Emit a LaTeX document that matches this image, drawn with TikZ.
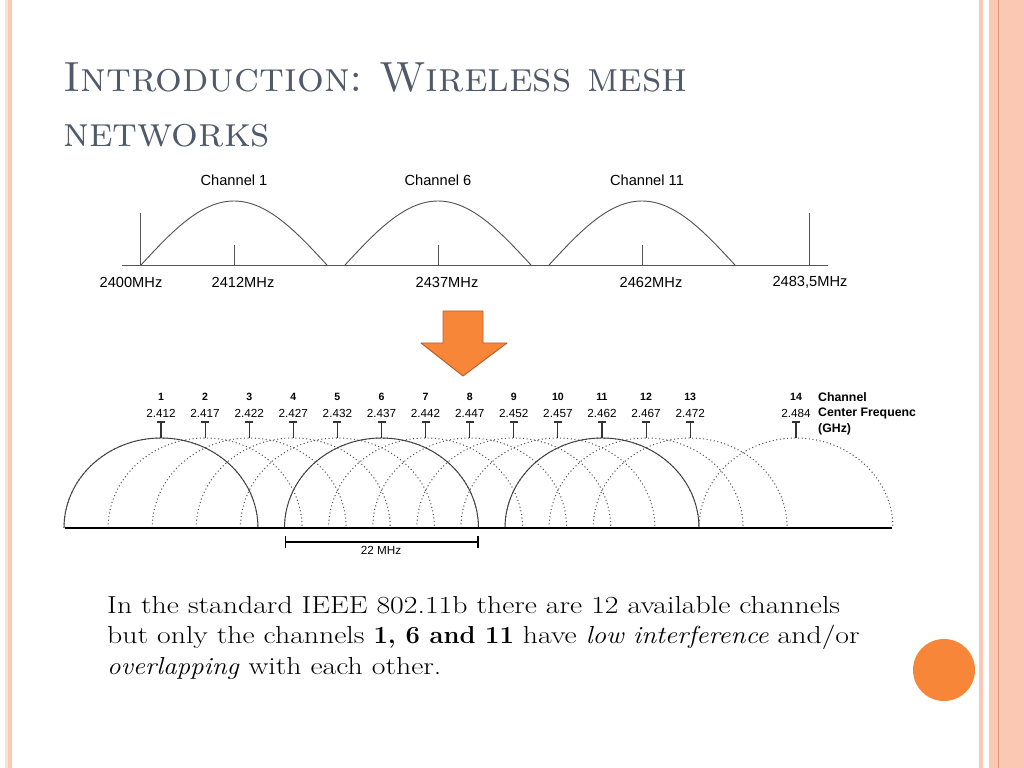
\documentclass[tikz,border=0pt]{standalone}
\usepackage{fontspec}
\newfontfamily\chartfont{Liberation Sans}
\newfontfamily\bodyfont[FakeStretch=1.21, BoldFeatures={FakeStretch=1.04},
    ItalicFeatures={FakeStretch=1.1}]{Latin Modern Roman}
\usetikzlibrary{arrows.meta}
\definecolor{titlegray}{RGB}{80,90,106}
\definecolor{slideorange}{RGB}{247,134,56}
\definecolor{arrowedge}{RGB}{185,95,45}
\definecolor{stripepink}{RGB}{251,200,180}
\definecolor{stripepale}{RGB}{250,226,212}
\definecolor{stripeline}{RGB}{225,150,120}
\definecolor{curvegray}{RGB}{85,85,85}

\begin{document}
\begin{tikzpicture}[x=0.03cm, y=-0.03cm,
    lobe/.style={curvegray, line width=0.8pt},
    solidarc/.style={black!75, line width=0.8pt},
    overlap/.style={black!65, line width=0.9pt, dash pattern=on 0.9pt off 2.2pt},
    toplabel/.style={font=\chartfont\fontsize{12.5}{14}\selectfont, inner sep=0pt},
    chnum/.style={font=\chartfont\bfseries\fontsize{9}{10}\selectfont, inner sep=0pt},
    chfreq/.style={font=\chartfont\fontsize{10}{11}\selectfont, inner sep=0pt},
    legend/.style={font=\chartfont\bfseries\fontsize{10.5}{11}\selectfont, inner sep=0pt, anchor=west}]
    % page and border stripes
    \useasboundingbox (0,0) rectangle (1024,768);
    \fill[white] (0,0) rectangle (1024,768);
    \fill[stripepale] (5,0) rectangle (8,768);
    \fill[stripepink] (8,0) rectangle (12,768);
    \fill[stripepink] (979,0) rectangle (983,768);
    \fill[stripepink] (989,0) rectangle (1024,768);
    \draw[stripeline, line width=0.7pt] (998,0) -- (998,768);
    \fill[slideorange] (944,670) circle[radius=31];

    % title (base = last line)
    \node[anchor=base west, inner sep=0pt, align=left, text=titlegray,
          font=\fontsize{36}{47}\selectfont\scshape\frenchspacing] (title) at (63,147)
          {Introduction: Wireless mesh\\networks};

    % spectrum with three channels
    \draw[lobe] (122,265) -- (828,265);
    \draw[lobe] (140,213) -- (140,265);
    \draw[lobe] (809,213) -- (809,265);
    \foreach \xc in {234,438,642} {
        \draw[lobe] (\xc,245) -- (\xc,265);
        \draw[lobe] (\xc-93,265) sin (\xc,201) cos (\xc+93,265);
    }
    \node[toplabel] (lbl1) at (234,180) {Channel 1};
    \node[toplabel] (lbl6) at (438,180) {Channel 6};
    \node[toplabel] (lbl11) at (647,180) {Channel 11};
    \node[toplabel] (f2400) at (131,282) {2400MHz};
    \node[toplabel] (f2412) at (243,282) {2412MHz};
    \node[toplabel] (f2437) at (447,282) {2437MHz};
    \node[toplabel] (f2462) at (651,282) {2462MHz};
    \node[toplabel] (f2483) at (810,282) {2483,5MHz};

    % arrow down
    \draw[fill=slideorange, draw=arrowedge, line width=0.8pt, line join=round]
        (443,311) -- (483,311) -- (483,343) -- (507,343) -- (463,376) -- (421,343) -- (443,343) -- cycle;

    % all 14 channels
    \foreach \n/\f/\xc in {1/2.412/161, 2/2.417/205.1, 3/2.422/249.2, 4/2.427/293.3,
                          5/2.432/337.4, 6/2.437/381.5, 7/2.442/425.6, 8/2.447/469.7,
                          9/2.452/513.8, 10/2.457/557.9, 11/2.462/602, 12/2.467/646.1,
                          13/2.472/690.2, 14/2.484/796} {
        \draw[overlap] (\xc-97,528) arc[start angle=180, end angle=360, x radius=97, y radius=90];
        \draw[black!80, line width=0.9pt] (\xc-4,422) -- (\xc+4,422) (\xc,422) -- (\xc,438);
        \node[chnum] (chn\n) at (\xc,397) {\n};
        \node[chfreq] (chf\n) at (\xc,413) {\f};
    }
    \foreach \xc in {161,381.5,602}
        \draw[solidarc] (\xc-97,528) arc[start angle=180, end angle=360, x radius=97, y radius=90];
    \draw[black, line width=1.6pt] (65,528) -- (892,528);
    \node[legend] (lgch) at (818,397) {Channel};
    \node[legend] (lgcf) at (818,413) {Center Frequenc};
    \node[legend] (lgghz) at (818,429) {(GHz)};

    % 22 MHz width
    \draw[{Bar[width=3.6mm]}-{Bar[width=3.6mm]}, line width=1.1pt] (284.5,542) -- (478.5,542);
    \node[chfreq] (width) at (381,550) {22 MHz};

    % text (base = last line)
    \node[anchor=base west, inner sep=0pt, align=left,
          font=\bodyfont\fontsize{21}{26}\selectfont] (note) at (107,674)
          {In the standard IEEE 802.11b there are 12 available channels\\
           but only the channels \textbf{1, 6 and 11} have \textit{low interference} and/or\\
           \textit{overlapping} with each other.};
\end{tikzpicture}
\end{document}
